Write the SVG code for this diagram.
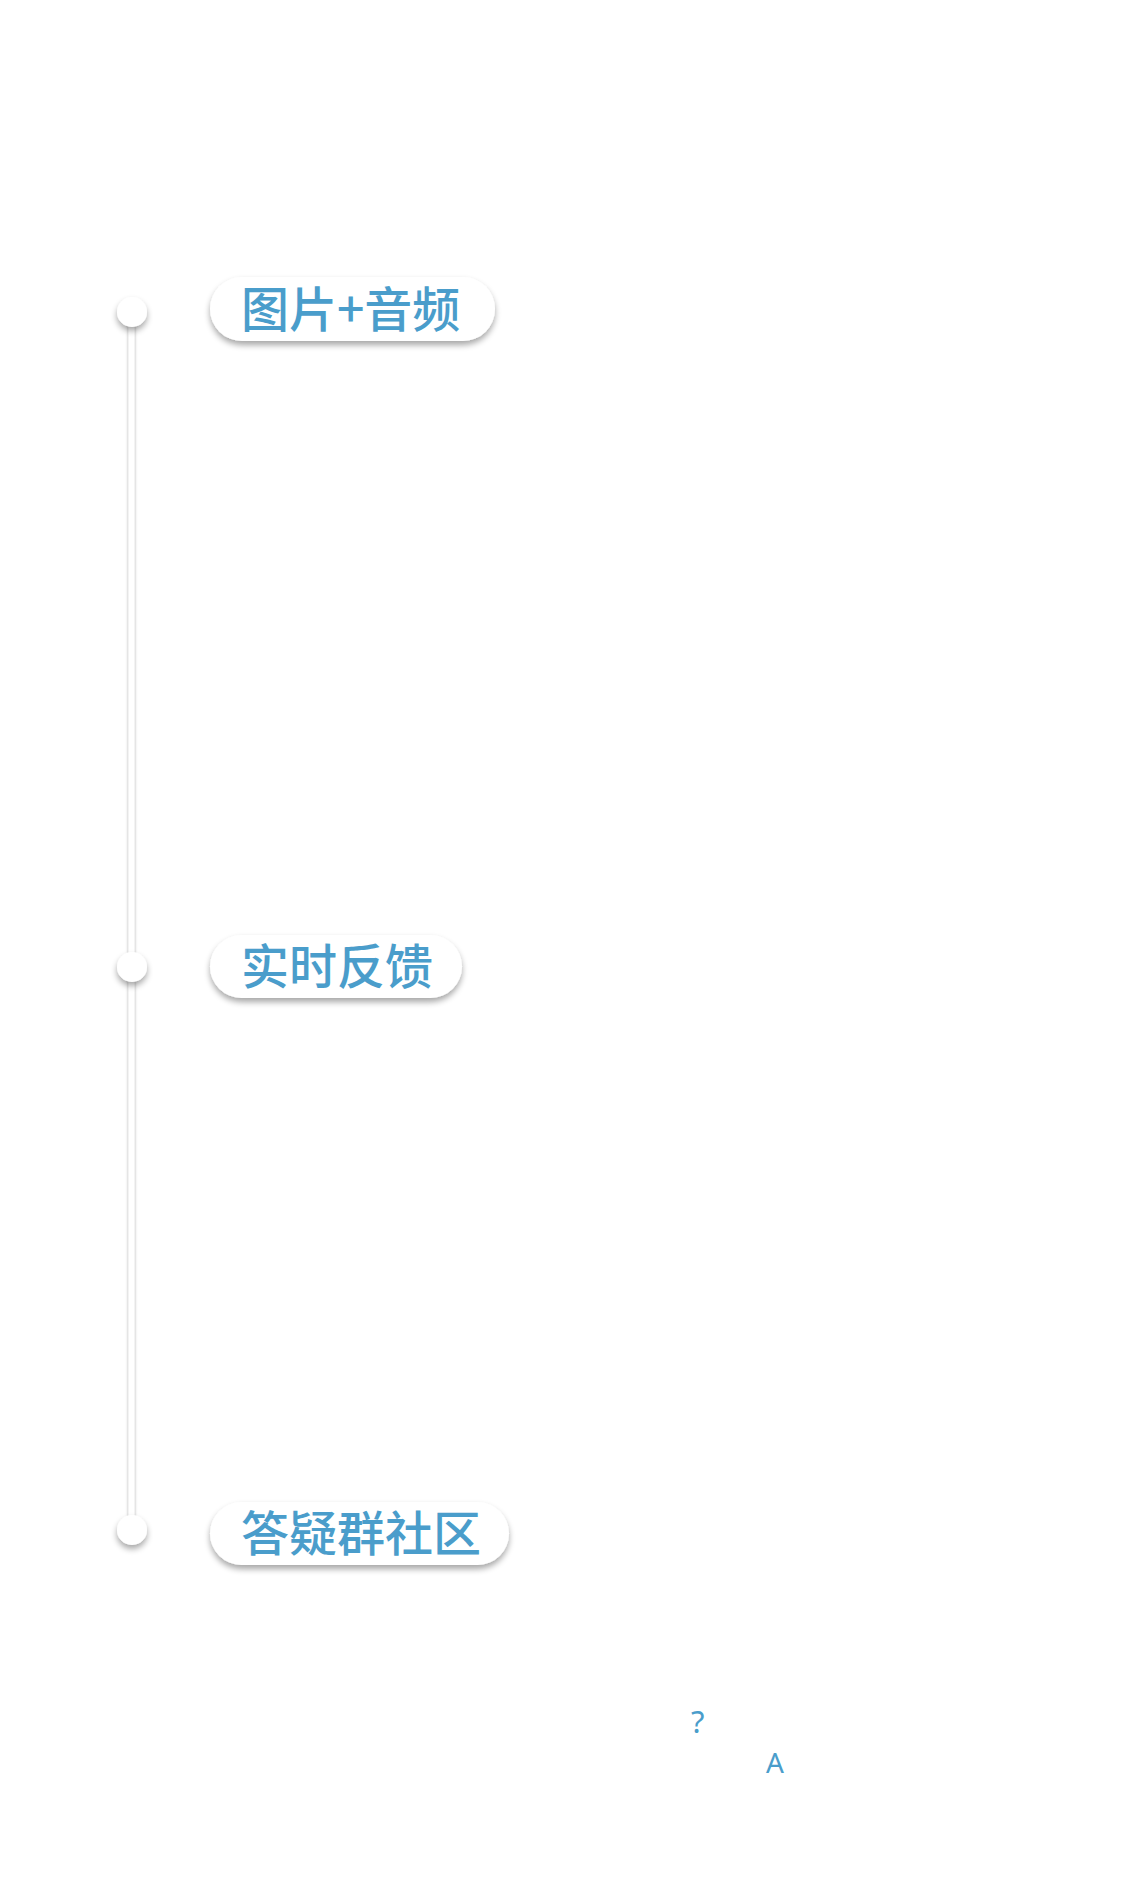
<svg xmlns="http://www.w3.org/2000/svg" width="1125" height="1890" viewBox="0 0 1125 1890">
  <defs>
    <filter id="shadow" x="-20%" y="-40%" width="140%" height="200%">
      <feGaussianBlur in="SourceAlpha" stdDeviation="3"/>
      <feOffset dx="0" dy="4" result="b"/>
      <feComponentTransfer><feFuncA type="linear" slope="0.35"/></feComponentTransfer>
      <feMerge><feMergeNode/><feMergeNode in="SourceGraphic"/></feMerge>
    </filter>
    <filter id="lineShadow" x="-200%" y="-5%" width="500%" height="110%">
      <feGaussianBlur in="SourceAlpha" stdDeviation="1.5"/>
      <feOffset dx="0" dy="0"/>
      <feComponentTransfer><feFuncA type="linear" slope="0.4"/></feComponentTransfer>
      <feMerge><feMergeNode/><feMergeNode in="SourceGraphic"/></feMerge>
    </filter>
  </defs>
  <style>
    .pill { fill: #ffffff; }
    .dot { fill: #ffffff; }
    .label { font-family: "Noto Sans CJK SC", "Noto Sans", sans-serif; font-size: 48px; font-weight: 500; fill: #4a9dcb; }
    .mark { font-family: "Noto Sans", Roboto, sans-serif; fill: #4a9dcb; }
  </style>
  <rect width="1125" height="1890" fill="#ffffff"/>

  <!-- timeline spine -->
  <g id="connectors">
    <rect x="128.5" y="312" width="6" height="1218" fill="#ffffff" filter="url(#lineShadow)"/>
  </g>

  <g id="step-1">
    <circle class="dot" cx="132" cy="312" r="15" filter="url(#shadow)"/>
    <rect class="pill" x="210" y="277" width="285" height="64" rx="32" filter="url(#shadow)"/>
    <text class="label" x="241" y="327">图片+音频</text>
  </g>

  <g id="step-2">
    <circle class="dot" cx="132" cy="967" r="15" filter="url(#shadow)"/>
    <rect class="pill" x="210" y="935" width="252" height="63" rx="31.5" filter="url(#shadow)"/>
    <text class="label" x="241" y="984">实时反馈</text>
  </g>

  <g id="step-3">
    <circle class="dot" cx="132" cy="1530" r="15" filter="url(#shadow)"/>
    <rect class="pill" x="210" y="1502" width="299" height="63" rx="31.5" filter="url(#shadow)"/>
    <text class="label" x="241" y="1551">答疑群社区</text>
  </g>

  <g id="marks">
    <text class="mark" x="691" y="1733" font-size="31">?</text>
    <text class="mark" x="766" y="1773" font-size="28">A</text>
  </g>
</svg>
